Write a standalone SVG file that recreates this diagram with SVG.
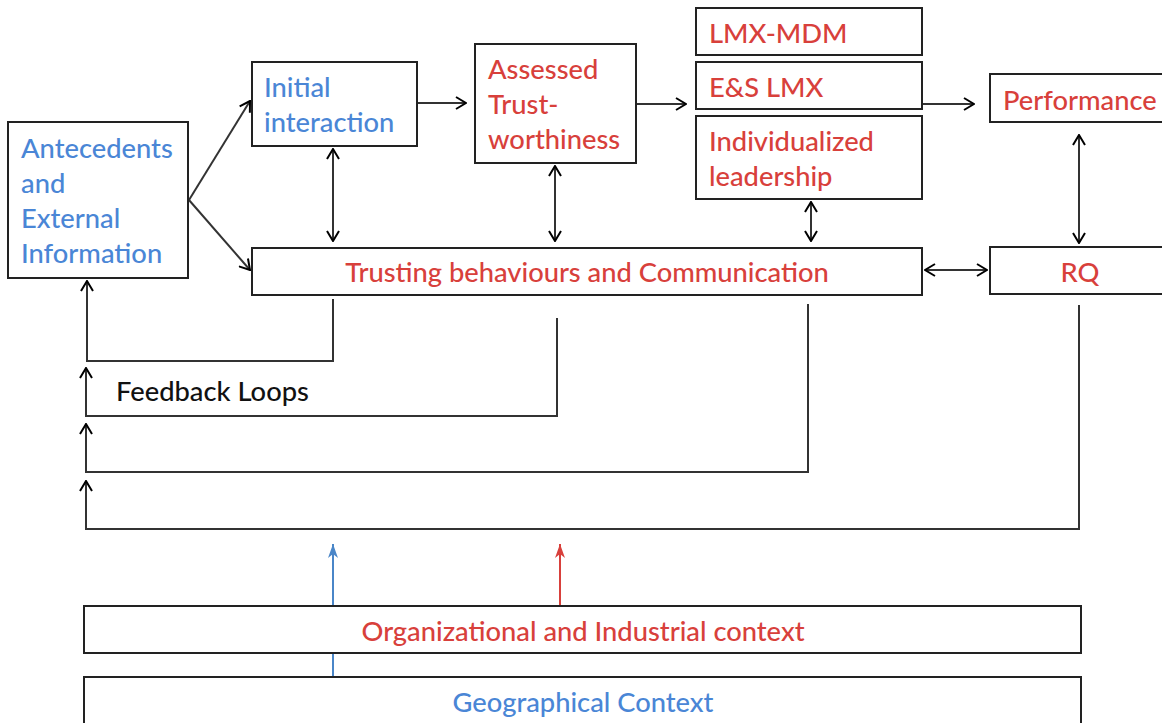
<svg xmlns="http://www.w3.org/2000/svg" width="1162" height="723" viewBox="0 0 1162 723">
<style>
.box{fill:#fff;stroke:#222;stroke-width:2}
.t{font-family:Lato,"Open Sans",sans-serif;font-size:27.3px;font-weight:500}
.blue{fill:#4a86d6}
.red{fill:#d8403b}
.blk{fill:#111}
.c{fill:none;stroke:#333;stroke-width:2}
</style>
<defs>
<marker id="ah" viewBox="0 0 12 14" refX="11" refY="7" markerWidth="12" markerHeight="14" orient="auto-start-reverse" markerUnits="userSpaceOnUse"><path d="M1,1 L11,7 L1,13" fill="none" stroke="#000" stroke-width="2"/></marker>
<marker id="ahb" viewBox="0 0 14 12" refX="14" refY="6" markerWidth="14" markerHeight="12" orient="auto" markerUnits="userSpaceOnUse"><path d="M0,1 L14,6 L0,11 L4,6 Z" fill="#4a86c8"/></marker>
<marker id="ahr" viewBox="0 0 14 12" refX="14" refY="6" markerWidth="14" markerHeight="12" orient="auto" markerUnits="userSpaceOnUse"><path d="M0,1 L14,6 L0,11 L4,6 Z" fill="#d8403b"/></marker>
</defs>
<rect width="1162" height="723" fill="#fff"/>
<g id="connectors">
<path class="c" d="M189,200 L250,101" marker-end="url(#ah)"/>
<path class="c" d="M189,200 L250,270" marker-end="url(#ah)"/>
<path class="c" d="M418,103 L466,103" marker-end="url(#ah)"/>
<path class="c" d="M637,104 L686,104" marker-end="url(#ah)"/>
<path class="c" d="M923,104 L974,104" marker-end="url(#ah)"/>
<path class="c" d="M333,149 L333,241" marker-start="url(#ah)" marker-end="url(#ah)"/>
<path class="c" d="M555,166 L555,241" marker-start="url(#ah)" marker-end="url(#ah)"/>
<path class="c" d="M811,202 L811,241" marker-start="url(#ah)" marker-end="url(#ah)"/>
<path class="c" d="M1079,135 L1079,243" marker-start="url(#ah)" marker-end="url(#ah)"/>
<path class="c" d="M925,270 L987,270" marker-start="url(#ah)" marker-end="url(#ah)"/>
<path class="c" d="M333,299 V361 H87 V281" marker-end="url(#ah)"/>
<path class="c" d="M557,318 V416 H86 V368" marker-end="url(#ah)"/>
<path class="c" d="M808,304 V472 H86 V424" marker-end="url(#ah)"/>
<path class="c" d="M1079,305 V529 H86 V481" marker-end="url(#ah)"/>
<path d="M333,677 V544" stroke="#4a86c8" stroke-width="2" fill="none" marker-end="url(#ahb)"/>
<path d="M560,606 V544" stroke="#d8403b" stroke-width="2" fill="none" marker-end="url(#ahr)"/>
</g>
<g id="antecedents">
<rect class="box" x="8" y="122" width="180" height="156"/>
<text class="t blue" x="21" y="158">Antecedents</text>
<text class="t blue" x="21" y="193">and</text>
<text class="t blue" x="21" y="228">External</text>
<text class="t blue" x="21" y="263">Information</text>
</g>
<g id="initial">
<rect class="box" x="252" y="62" width="165" height="84"/>
<text class="t blue" x="264" y="97">Initial</text>
<text class="t blue" x="264" y="132">interaction</text>
</g>
<g id="assessed">
<rect class="box" x="475" y="44" width="161" height="119"/>
<text class="t red" x="488" y="79">Assessed</text>
<text class="t red" x="488" y="114">Trust-</text>
<text class="t red" x="488" y="149">worthiness</text>
</g>
<g id="lmxmdm">
<rect class="box" x="696" y="8" width="226" height="47"/>
<text class="t red" x="709" y="43">LMX-MDM</text>
</g>
<g id="eslmx">
<rect class="box" x="696" y="62" width="226" height="47"/>
<text class="t red" x="709" y="97">E&amp;S LMX</text>
</g>
<g id="individualized">
<rect class="box" x="696" y="116" width="226" height="83"/>
<text class="t red" x="709" y="151">Individualized</text>
<text class="t red" x="709" y="186">leadership</text>
</g>
<g id="performance">
<rect class="box" x="990" y="74" width="180" height="48"/>
<text class="t red" x="1003" y="110">Performance</text>
</g>
<g id="trusting">
<rect class="box" x="252" y="248" width="670" height="47"/>
<text class="t red" x="587" y="282" text-anchor="middle">Trusting behaviours and Communication</text>
</g>
<g id="rq">
<rect class="box" x="990" y="247" width="180" height="47"/>
<text class="t red" x="1080" y="282" text-anchor="middle">RQ</text>
</g>
<g id="feedback">
<text class="t blk" x="116" y="401">Feedback Loops</text>
</g>
<g id="organizational">
<rect class="box" x="84" y="606" width="997" height="47"/>
<text class="t red" x="583" y="641" text-anchor="middle">Organizational and Industrial context</text>
</g>
<g id="geographical">
<rect class="box" x="84" y="677" width="997" height="60"/>
<text class="t blue" x="583" y="712" text-anchor="middle">Geographical Context</text>
</g>
</svg>
